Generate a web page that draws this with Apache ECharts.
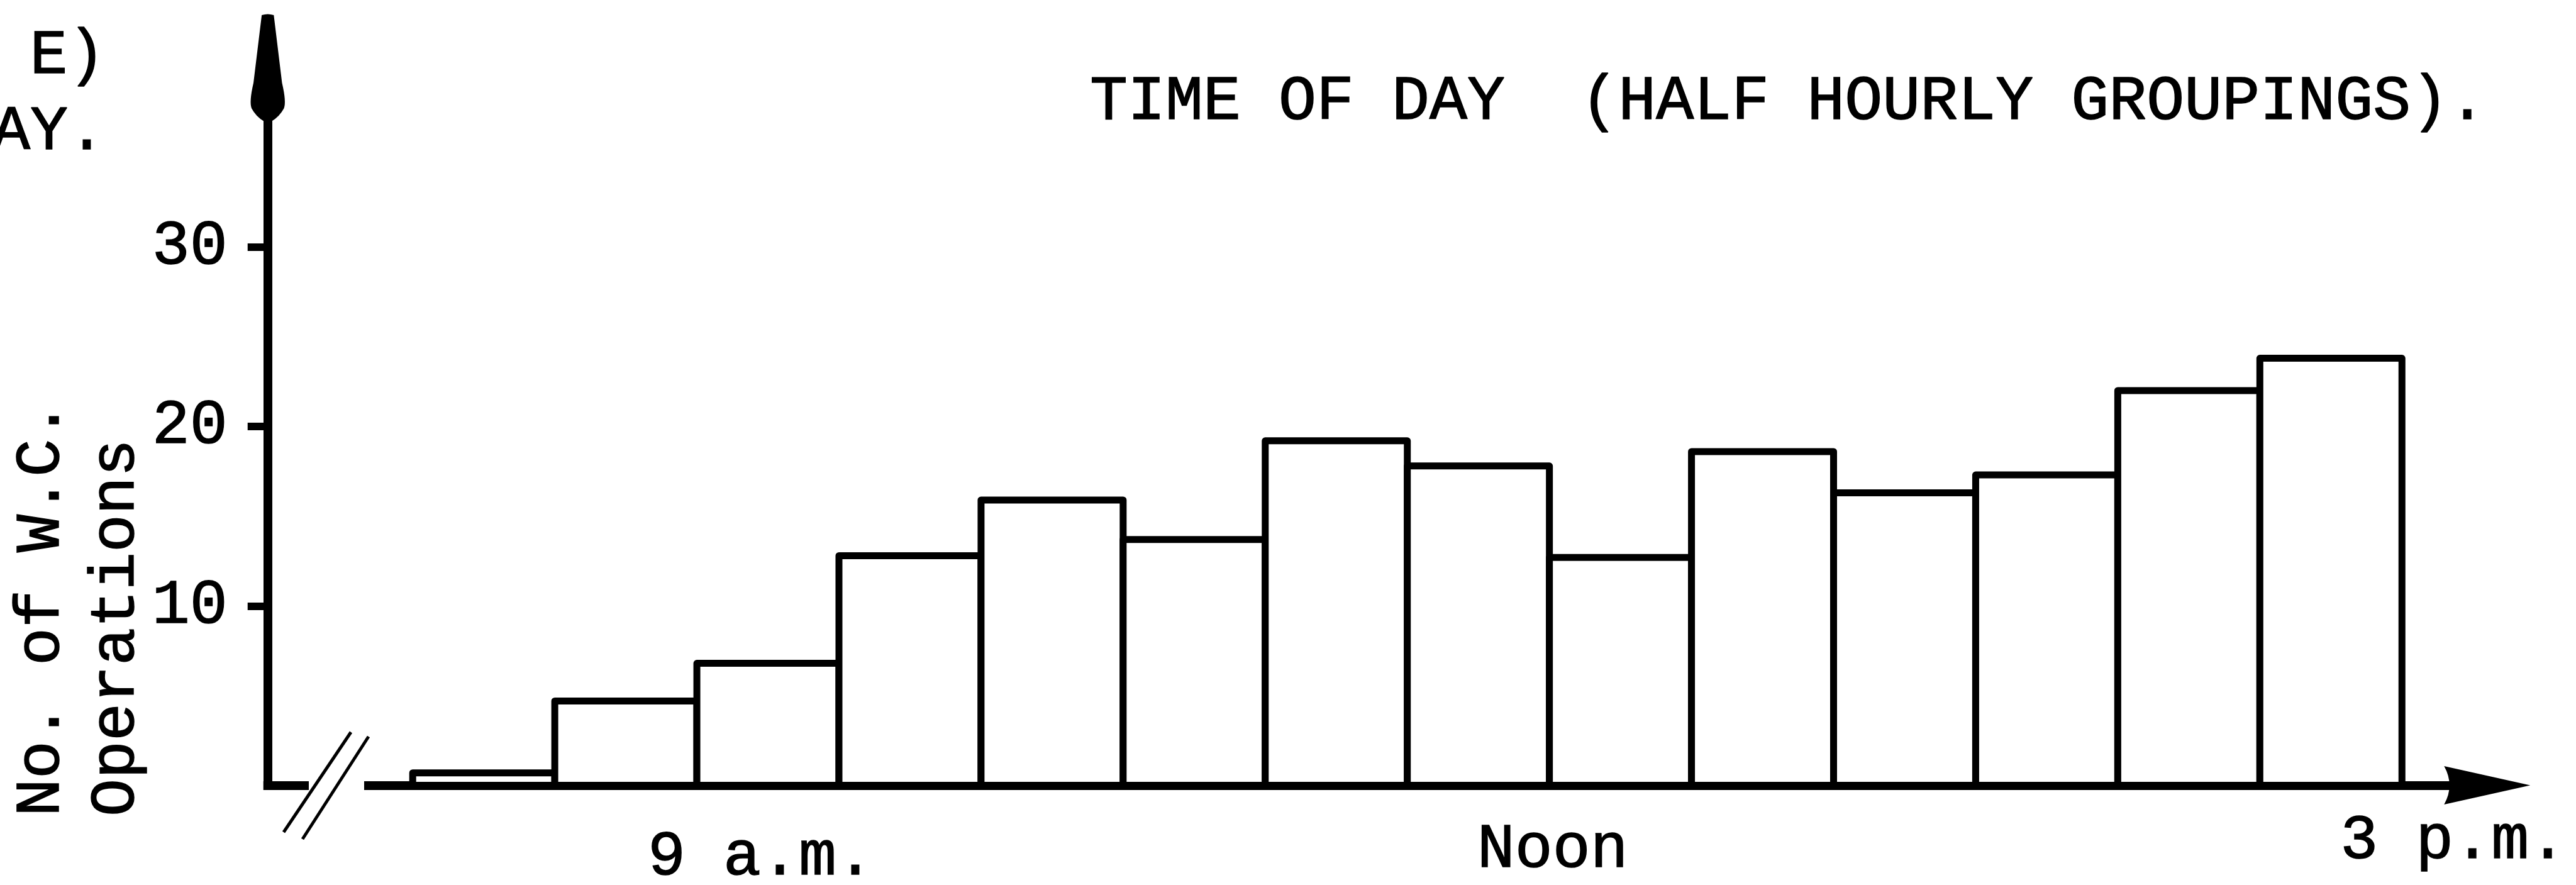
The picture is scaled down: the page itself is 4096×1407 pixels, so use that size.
<!DOCTYPE html>
<html>
<head>
<meta charset="utf-8">
<script src="https://cdn.jsdelivr.net/npm/echarts@6/dist/echarts.min.js"></script>
<style>
  html, body { margin: 0; padding: 0; background: #fff; }
  #chart { width: 4096px; height: 1407px; }
</style>
</head>
<body>
<div id="chart"></div>
<script>
// Half-hour groups, as clock hours (8 = 8:00 a.m., 14.5 = 2:30 p.m.)
const groupStart = [8, 8.5, 9, 9.5, 10, 10.5, 11, 11.5, 12, 12.5, 13, 13.5, 14, 14.5];
const groupEnd   = [8.5, 9, 9.5, 10, 10.5, 11, 11.5, 12, 12.5, 13, 13.5, 14, 14.5, 15];
// Number of W.C. operations counted in each half hour
const operations = [0.7, 4.7, 6.8, 12.8, 15.9, 13.7, 19.2, 17.8, 12.7, 18.6, 16.3, 17.3, 22.0, 23.8];
// Axis ticks and labels
const countTicks = [10, 20, 30];
const timeTicks  = [9, 12, 15];
const timeLabels = ['9 a.m.', 'Noon', '3 p.m.'];

const FONT = '"Liberation Mono", "Cousine", monospace';
const FS = 100;
const INK = '#000';
const INK_SPREAD = 1.5;   // slight ink spread on the typed characters

const bars = groupStart.map((s, i) => [s, groupEnd[i], operations[i]]);

// Typewritten time labels sit a little off their ticks and step upward to the right
function typed(pad) {
  return {
    fontFamily: FONT, fontSize: FS, lineHeight: FS, color: INK,
    textBorderColor: INK, textBorderWidth: INK_SPREAD, padding: pad
  };
}
const labelRich = {
  t0: typed([51, 0, 0, 204]),
  t1: typed([27, 0, 0, 10]),
  t2: typed([0, 0, 0, 164])
};

function textEl(str, x, y, rot) {
  return {
    type: 'text', x: x, y: y, rotation: rot || 0, z: 100,
    style: {
      text: str, fill: INK, stroke: INK, lineWidth: INK_SPREAD,
      font: FS + 'px ' + FONT,
      align: 'left', textAlign: 'left',
      verticalAlign: 'middle', textVerticalAlign: 'middle'
    }
  };
}

const chart = echarts.init(document.getElementById('chart'), null, { renderer: 'canvas' });

chart.setOption({
  animation: false,
  backgroundColor: '#fff',
  title: {
    text: 'TIME OF DAY  (HALF HOURLY GROUPINGS).',
    left: 1728, top: 108,
    textStyle: {
      fontFamily: FONT, fontSize: FS, fontWeight: 'normal', color: INK, lineHeight: FS,
      textBorderColor: INK, textBorderWidth: INK_SPREAD
    }
  },
  grid: {
    left: 425.75, right: 141.2, top: 107.4, bottom: 158.4,
    containLabel: false, outerBoundsMode: 'none'
  },
  xAxis: {
    type: 'value', min: 7.49, max: 15.3,
    axisLine: {
      show: true, onZero: true,
      lineStyle: { color: INK, width: 14, cap: 'square' },
      symbol: ['none', 'path://M30.5,0 L61,137 Q30.5,120 0,137 Z'],
      symbolSize: [61, 137]
    },
    axisTick: { show: false },
    splitLine: { show: false },
    axisLabel: {
      customValues: timeTicks,
      margin: 39,
      formatter: function (v) {
        const i = timeTicks.indexOf(v);
        return i < 0 ? '' : '{t' + i + '|' + timeLabels[i] + '}';
      },
      rich: labelRich
    }
  },
  yAxis: {
    type: 'value', min: 0, max: 40,
    axisLine: {
      show: true,
      lineStyle: { color: INK, width: 14, cap: 'square' },
      symbol: ['none', 'path://M20,3 Q29.5,0 39,3 L52,110 Q59,140 55,150 Q48,163 36,170 L23,170 Q11,163 4,150 Q0,140 7,110 Z'],
      symbolSize: [59, 170]
    },
    axisTick: {
      show: true, customValues: countTicks, length: 32,
      lineStyle: { color: INK, width: 12 }
    },
    axisLabel: {
      customValues: countTicks, margin: 64,
      fontFamily: FONT, fontSize: FS, color: INK,
      textBorderColor: INK, textBorderWidth: INK_SPREAD
    },
    splitLine: { show: false }
  },
  series: [{
    type: 'custom',
    data: bars,
    encode: { x: [0, 1], y: 2 },
    renderItem: function (params, api) {
      const topLeft = api.coord([api.value(0), api.value(2)]);
      const bottomRight = api.coord([api.value(1), 0]);
      return {
        type: 'rect',
        shape: {
          x: topLeft[0], y: topLeft[1],
          width: bottomRight[0] - topLeft[0],
          height: bottomRight[1] - topLeft[1]
        },
        style: { fill: '#fff', stroke: INK, lineWidth: 11, lineJoin: 'round' }
      };
    }
  }],
  graphic: [
    // Ends of the heading carried over from the previous line
    textEl('E)', 47.6, 90),
    textEl('AY.', -12, 211),
    // Vertical axis title, two lines reading upward
    textEl('No. of W.C.', 66.8, 1298, Math.PI / 2),
    textEl('Operations', 185.8, 1298, Math.PI / 2),
    // Axis break on the time axis
    { type: 'rect', z: 99, shape: { x: 491, y: 1236, width: 88, height: 26 }, style: { fill: '#fff' } },
    { type: 'line', z: 101, shape: { x1: 451, y1: 1323, x2: 558, y2: 1164 }, style: { stroke: INK, lineWidth: 5 } },
    { type: 'line', z: 101, shape: { x1: 481, y1: 1334, x2: 586, y2: 1171 }, style: { stroke: INK, lineWidth: 5 } }
  ]
});
</script>
</body>
</html>
